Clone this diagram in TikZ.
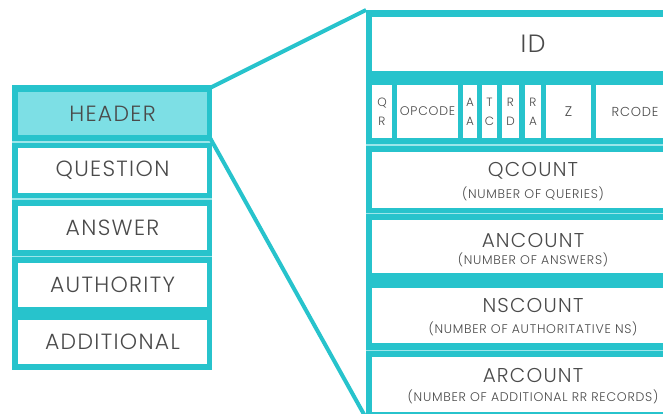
\documentclass[tikz,border=0pt]{standalone}
\usepackage{fontspec}
\setmainfont{Poppins}[UprightFont=* Light]
\newfontfamily\spaced{Poppins}[UprightFont=* Light, LetterSpace=6]
\definecolor{teal1}{HTML}{27C3CC}
\definecolor{tealsoft}{HTML}{7DDFE5}
\definecolor{tealline}{HTML}{9BE6EA}
\definecolor{ink}{HTML}{4A4A4A}
\newcommand\fieldtitle[1]{{\spaced\fontsize{20}{20}\selectfont #1}}
\newcommand\fieldnote[1]{{\spaced\fontsize{12.5}{13}\selectfont #1}}
\tikzset{
  panel/.style={fill=teal1, draw=none},
  cell/.style={fill=white, draw=none, inner sep=0pt, text=ink, align=center},
  celltext/.style={text=ink, align=center, inner sep=0pt},
  bigtxt/.style={font=\spaced\fontsize{22}{24}\selectfont},
  flagtxt/.style={font=\spaced\fontsize{12}{19}\selectfont},
  sep/.style={tealline, line width=1.5pt},
  link/.style={teal1, line width=4pt}
}
\begin{document}
\begin{tikzpicture}[x=1pt,y=-1pt]
\useasboundingbox (0,0) rectangle (663,414);
\clip (0,0) rectangle (663,414);
\fill[white] (0,0) rectangle (663,414);

% message sections
\fill[panel] (12,85) rectangle (212,370);
\node[cell, fill=tealsoft, bigtxt, minimum width=189pt, minimum height=43pt] (header) at (112.5,113.5) {HEADER};
\node[cell, bigtxt, minimum width=189pt, minimum height=45pt] (question) at (112.5,170.5) {QUESTION};
\node[cell, bigtxt, minimum width=189pt, minimum height=44pt] (answer) at (112.5,228) {ANSWER};
\node[cell, bigtxt, minimum width=189pt, minimum height=44pt] (authority) at (112.5,285) {AUTHORITY};
\node[cell, bigtxt, minimum width=189pt, minimum height=44pt] (additional) at (112.5,342) {ADDITIONAL};
\draw[sep] (12,142) -- (212,142);
\draw[sep] (12,199) -- (212,199);
\draw[sep] (12,256.5) -- (212,256.5);

% header fields
\fill[panel] (366,10) rectangle (700,418);
\coordinate (ptop) at (366,10);
\coordinate (pbot) at (366,418);
\node[cell, font=\spaced\fontsize{25}{28}\selectfont, minimum width=322pt, minimum height=54pt] (id) at (533,44) {ID};
\node[cell, flagtxt, minimum width=20pt, minimum height=53pt] (qr) at (382,111.5) {Q\\R};
\node[cell, font=\spaced\fontsize{12.5}{15}\selectfont, minimum width=61pt, minimum height=53pt] (opcode) at (427.5,111.5) {OPCODE};
\node[cell, flagtxt, minimum width=14pt, minimum height=53pt] (aa) at (470,111.5) {A\\A};
\node[cell, flagtxt, minimum width=15pt, minimum height=53pt] (tc) at (489.5,111.5) {T\\C};
\node[cell, flagtxt, minimum width=17pt, minimum height=53pt] (rd) at (510.5,111.5) {R\\D};
\node[cell, flagtxt, minimum width=16pt, minimum height=53pt] (ra) at (533,111.5) {R\\A};
\node[cell, font=\spaced\fontsize{14}{15}\selectfont, minimum width=45pt, minimum height=53pt] (z) at (568.5,111.5) {Z};
\node[cell, font=\spaced\fontsize{13}{15}\selectfont, minimum width=78pt, minimum height=53pt] (rcode) at (635,111.5) {RCODE};
% count fields: title with its explanation underneath
\node[cell, minimum width=322pt, minimum height=56pt] (qcount) at (533,180) {};
\node[celltext] (qcounttxt) at (533,181.5)
  {\fieldtitle{QCOUNT}\\[7pt]\fieldnote{(NUMBER OF QUERIES)}};
\node[cell, minimum width=322pt, minimum height=53pt] (ancount) at (533,246.5) {};
\node[celltext] (ancounttxt) at (533,250)
  {\fieldtitle{ANCOUNT}\\[5pt]\fieldnote{(NUMBER OF ANSWERS)}};
\node[cell, minimum width=322pt, minimum height=55pt] (nscount) at (533,315.5) {};
\node[celltext] (nscounttxt) at (533,317.5)
  {\fieldtitle{NSCOUNT}\\[9pt]\fieldnote{(NUMBER OF AUTHORITATIVE NS)}};
\node[cell, minimum width=322pt, minimum height=55pt] (arcount) at (533,384.5) {};
\node[celltext] (arcounttxt) at (533,386.5)
  {\fieldtitle{ARCOUNT}\\[7pt]\fieldnote{(NUMBER OF ADDITIONAL RR RECORDS)}};
\draw[sep] (366,145) -- (700,145);
\draw[sep] (366,213.5) -- (700,213.5);
\draw[sep] (366,350.5) -- (700,350.5);

% zoom lines from the header section
\draw[link] (header.north east) ++(3,-4) -- (ptop);
\draw[link] (header.south east) ++(3,3) -- (pbot);
\end{tikzpicture}
\end{document}
